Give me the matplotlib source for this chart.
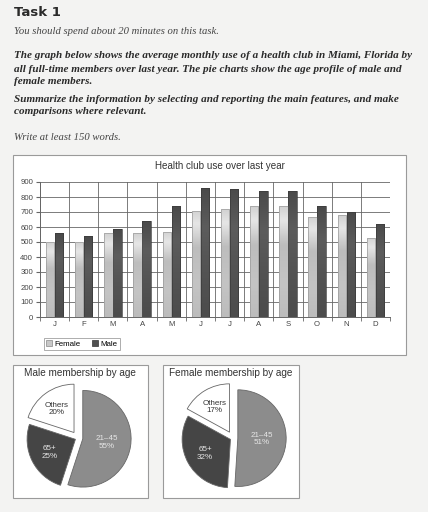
import numpy as np
import matplotlib
matplotlib.use("Agg")
import matplotlib.pyplot as plt
from matplotlib.patches import Rectangle
from matplotlib.colors import LinearSegmentedColormap

# data
months = ["J", "F", "M", "A", "M", "J", "J", "A", "S", "O", "N", "D"]
female_use = [500, 500, 560, 560, 570, 710, 720, 740, 740, 670, 680, 530]
male_use = [560, 540, 585, 640, 740, 860, 855, 840, 840, 740, 700, 620]
age_groups = ["21\u201345", "65+", "Others"]
male_ages = [55, 25, 20]
female_ages = [51, 32, 17]

W, H = 428, 512
fig = plt.figure(figsize=(W / 100, H / 100), dpi=100)
fig.patch.set_facecolor("#f3f3f2")


def box(x0, y0, x1, y1):
    # pixel box (top-left origin) -> figure fraction rect
    return [x0 / W, 1 - y1 / H, (x1 - x0) / W, (y1 - y0) / H]


def ftext(x, y, s, **kw):
    fig.text(x / W, 1 - y / H, s, **kw)


serif = "Liberation Serif"
sans = "Liberation Sans"
ink = "#2a2a2a"

ftext(14, 12, "Task 1", fontsize=9.5, fontweight="bold", family="DejaVu Sans",
      va="center", color=ink)
ftext(14, 31, "You should spend about 20 minutes on this task.", fontsize=7.7,
      style="italic", family=serif, va="center", color="#444444")
task_lines = [
    (56, "The graph below shows the average monthly use of a health club in Miami, Florida by"),
    (69, "all full-time members over last year. The pie charts show the age profile of male and"),
    (81, "female members."),
    (100, "Summarize the information by selecting and reporting the main features, and make"),
    (112, "comparisons where relevant."),
]
for y, s in task_lines:
    ftext(14, y, s, fontsize=8.05, style="italic", fontweight="bold", family=serif,
          va="center", color=ink)
ftext(14, 137, "Write at least 150 words.", fontsize=7.7, style="italic",
      family=serif, va="center", color="#444444")

# frames behind the charts
for (x0, y0, x1, y1) in [(13, 155, 406, 355), (13, 365, 148, 498), (163, 365, 299, 498)]:
    fig.patches.append(Rectangle((x0 / W, 1 - y1 / H), (x1 - x0) / W, (y1 - y0) / H,
                                 transform=fig.transFigure, facecolor="white",
                                 edgecolor="#9a9a9a", linewidth=0.8, zorder=-5))

ftext(220, 166, "Health club use over last year", fontsize=7.1, family=sans,
      ha="center", va="center", color="#333333")

# bar chart
ax = fig.add_axes(box(40, 182, 390, 317))
ax.set_facecolor("white")
x = np.arange(len(months))
bw = 0.29
fem_bars = ax.bar(x - 0.155, female_use, bw, color="none", edgecolor="#9a9a9a",
                  linewidth=0.5, zorder=4)
male_bars = ax.bar(x + 0.155, male_use, bw, color="none", edgecolor="#3a3a3a",
                   linewidth=0.5, zorder=4)

# shaded fills, top of bar to bottom
fem_cmap = LinearSegmentedColormap.from_list(
    "fem", [(0, "#d2d2d2"), (0.12, "#e6e6e6"), (0.35, "#bdbdbd"),
            (0.7, "#c4c4c4"), (1, "#bcbcbc")])
male_cmap = LinearSegmentedColormap.from_list(
    "male", [(0, "#4a4a4a"), (0.3, "#5c5c5c"), (0.6, "#545454"), (1, "#4c4c4c")])
grad = np.linspace(0, 1, 64).reshape(-1, 1)
for bars, cmap in [(fem_bars, fem_cmap), (male_bars, male_cmap)]:
    for b in bars:
        x0, w, h = b.get_x(), b.get_width(), b.get_height()
        im = ax.imshow(grad, extent=[x0, x0 + w, 0, h], aspect="auto", cmap=cmap,
                       origin="upper", zorder=3, interpolation="bilinear")
        im.set_clip_path(b)

ax.set_xlim(-0.5, len(months) - 0.5)
ax.set_ylim(0, 900)
ax.set_yticks(range(0, 901, 100))
ax.set_xticks(x)
ax.set_xticklabels(months)
ax.set_xticks(np.arange(-0.5, len(months)), minor=True)
ax.tick_params(axis="x", which="major", length=0, pad=3)
ax.tick_params(axis="x", which="minor", length=3, color="#666666")
ax.tick_params(axis="y", length=3, color="#666666", pad=2)
for lab in ax.get_xticklabels() + ax.get_yticklabels():
    lab.set_fontsize(5.6)
    lab.set_family(sans)
    lab.set_color("#444444")
ax.grid(axis="y", color="#666666", linewidth=0.6, zorder=1)
ax.grid(axis="x", which="minor", color="#666666", linewidth=0.6, zorder=1)
for side in ["top", "right"]:
    ax.spines[side].set_visible(False)
ax.spines["left"].set_color("#666666")
ax.spines["bottom"].set_color("#666666")
ax.spines["left"].set_linewidth(0.7)
ax.spines["bottom"].set_linewidth(0.7)

fem_handle = Rectangle((0, 0), 1, 1, facecolor="#c8c8c8", edgecolor="#888888", linewidth=0.5)
male_handle = Rectangle((0, 0), 1, 1, facecolor="#505050", edgecolor="#333333", linewidth=0.5)
leg = ax.legend([fem_handle, male_handle], ["Female", "Male"], loc="upper left",
                bbox_to_anchor=(0.0, -0.125), ncol=2,
                frameon=True, fancybox=False, handlelength=0.7,
                handleheight=0.7, handletextpad=0.3, columnspacing=1.5,
                borderpad=0.3, prop={"family": sans, "size": 5.7})
leg.get_frame().set_edgecolor("#888888")
leg.get_frame().set_linewidth(0.6)

# pies
pie_cols = ["#8c8c8c", "#454545", "white"]
txt_cols = ["#e6e6e6", "#e6e6e6", "#333333"]
for title, vals, bx, cx in [("Male membership by age", male_ages, 80, 78),
                            ("Female membership by age", female_ages, 231, 233)]:
    ftext(bx, 373, title, fontsize=7.2, family=sans, ha="center", va="center",
          color="#333333")
    pax = fig.add_axes(box(cx - 58, 380, cx + 58, 496))
    pax.patch.set_visible(False)
    wedges, _ = pax.pie(vals, colors=pie_cols, startangle=90, counterclock=False,
                        explode=[0.1, 0.06, 0.14],
                        wedgeprops=dict(edgecolor="#666666", linewidth=0.6))
    for w, g, v, tc in zip(wedges, age_groups, vals, txt_cols):
        ang = np.deg2rad((w.theta1 + w.theta2) / 2)
        r = 0.5 if v > 40 else 0.6
        cxw, cyw = w.center
        pax.text(cxw + r * np.cos(ang), cyw + r * np.sin(ang), f"{g}\n{v}%",
                 ha="center", va="center", fontsize=5.8, family=sans,
                 color=tc, linespacing=1.1)
    pax.set_xlim(-1.2, 1.2)
    pax.set_ylim(-1.2, 1.2)
    pax.set_aspect("equal")

fig.savefig("out.png", dpi=100, facecolor=fig.get_facecolor())
